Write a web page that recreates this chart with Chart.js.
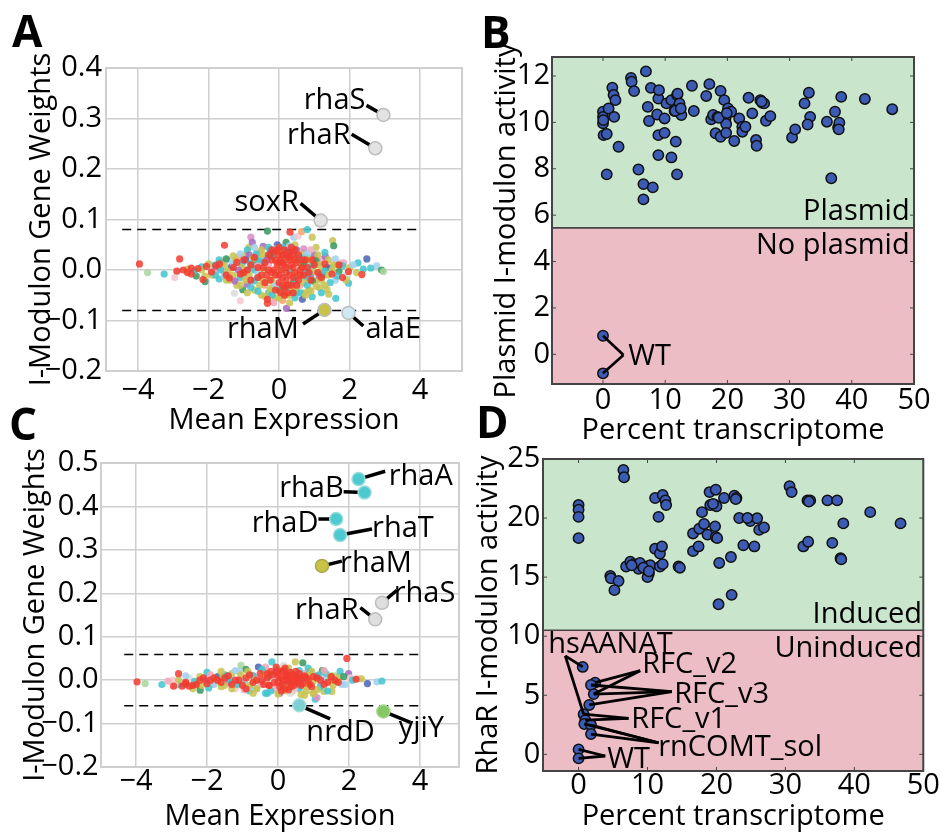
<!DOCTYPE html>
<html>
<head>
<meta charset="utf-8">
<script src="https://cdn.jsdelivr.net/npm/chart.js@4.4.1/dist/chart.umd.min.js"></script>
<style>
  html, body { margin: 0; padding: 0; background: #fff; }
  body { width: 941px; height: 834px; position: relative; overflow: hidden; }
  .panel { position: absolute; }
  .panel canvas { display: block; }
  .letter { position: absolute; font: bold 44px 'Open Sans'; line-height: 44px; color: #000; }
</style>
</head>
<body>
<div class="panel" style="left:0;top:0"><canvas id="cA" width="470" height="445"></canvas></div>
<div class="panel" style="left:470px;top:0"><canvas id="cB" width="471" height="455"></canvas></div>
<div class="panel" style="left:0;top:400px"><canvas id="cC" width="470" height="434"></canvas></div>
<div class="panel" style="left:470px;top:400px"><canvas id="cD" width="471" height="434"></canvas></div>
<div class="letter" style="left:12px;top:8px">A</div>
<div class="letter" style="left:481px;top:9px">B</div>
<div class="letter" style="left:9px;top:401px">C</div>
<div class="letter" style="left:476px;top:399px">D</div>
<script>
// ---------------- data ----------------
// gene categories -> colours (category 0 = red, drawn above the others)
const catColors = ['#f23b2f','#c8c455','#47c6cf','#a2d2ee','#f1a9b9','#3c9b62','#a86cc0',
                   '#4c69b5','#f3a86a','#a9d6a1','#f6c9d1','#dcdcdc','#d98fca'];

// Panel A: gene weights vs mean expression, spread-out genes
const geneA_x = [-3.73,-3.26,-2.96,-2.9,-2.6,-2.35,-2.1,-2.2,-1.95,-1.9,-1.75,-1.7,-1.6,-1.55,-1.45,-1.4,-1.35,-1.27,-1.1,-1.03,
  -1.2,-1.15,-1.05,-1.0,-0.95,-0.9,-0.85,-0.8,-0.76,-0.75,-0.7,-0.65,-0.6,-0.55,-0.5,-0.45,-0.42,-0.4,-0.35,-0.33,
  -0.3,-0.25,-0.2,-0.15,-0.1,-0.05,0.0,0.05,0.1,0.15,0.2,0.21,0.25,0.3,0.35,0.42,0.4,0.45,0.5,0.54,
  0.55,0.6,0.64,0.66,0.7,0.75,0.8,0.8,0.85,0.9,0.94,0.94,1.0,1.05,1.1,1.15,1.2,1.25,1.31,1.36,
  1.41,1.45,1.52,1.55,1.6,1.61,1.65,1.74,1.83,1.9,1.97,2.0,2.24,2.39,2.49,2.77,2.91,2.96,
  -0.6,-0.3,0.0,0.3,0.6,0.9,1.2,-0.9,-0.2,0.5,1.05,-0.5,0.2,0.7,-0.15,0.3,
  -3.96,-2.82,-2.9,-2.72,-2.6,-2.49,-2.49,-2.3,-2.16,-2.06,-1.92,-1.8,-1.69,-1.55,-1.5,-1.41,-1.3,-1.2,-1.1,-1.0,
  -0.9,-0.8,-0.7,-0.6,-0.5,-0.4,-0.33,-0.33,-0.3,-0.25,-0.2,-0.15,-0.1,-0.05,0.0,0.0,0.05,0.1,0.1,0.15,
  0.15,0.2,0.2,0.25,0.3,0.31,0.35,0.35,0.4,0.45,0.5,0.55,0.6,0.65,0.7,0.8,0.9,1.0,1.1,1.3,
  1.5,1.7,1.97,2.35,1.8,0.05,-0.05,0.25,0.0,0.1,-0.1,0.2,0.4,-0.2,0.3,0.45,-0.4];
const geneA_y = [-0.005,-0.008,-0.015,-0.004,0.002,-0.012,-0.023,0.006,0.01,-0.01,0.004,-0.018,0.015,-0.005,0.02,-0.02,0.006,-0.046,-0.061,-0.039,
  -0.03,0.025,0.012,-0.012,0.03,-0.028,0.045,0.065,0.055,0.008,-0.04,0.02,-0.015,0.035,-0.05,0.047,0.0,-0.03,0.025,0.077,
  -0.045,0.04,-0.02,0.03,-0.055,0.05,-0.04,0.045,-0.06,0.02,-0.035,-0.076,0.04,-0.05,0.03,0.065,-0.025,0.05,-0.045,0.067,
  0.02,-0.03,0.076,-0.058,0.035,-0.015,0.08,0.025,-0.04,0.01,0.065,-0.053,0.03,-0.02,0.015,-0.035,0.02,-0.01,0.027,-0.039,
  -0.048,0.005,0.058,0.048,-0.02,-0.056,0.01,0.014,0.014,-0.01,-0.026,0.005,0.014,0.002,0.022,0.008,0.0,-0.003,
  0.03,0.01,0.0,0.0,0.01,-0.01,0.0,0.0,-0.035,-0.01,0.045,0.015,0.055,-0.045,-0.065,-0.065,
  0.012,0.022,-0.002,0.0,-0.005,0.004,-0.008,0.003,-0.019,0.007,-0.004,0.008,0.012,0.049,-0.01,-0.016,0.005,0.015,-0.008,0.02,
  0.0,-0.02,0.025,0.005,-0.01,0.015,-0.058,-0.066,0.0,-0.02,0.02,0.035,-0.01,0.01,-0.025,0.03,0.0,0.015,-0.015,-0.035,
  0.04,0.005,-0.02,0.025,-0.01,0.075,0.01,-0.03,0.03,-0.005,0.015,-0.02,0.0,0.02,-0.01,0.005,-0.02,0.01,-0.005,0.012,
  -0.008,0.01,-0.003,-0.009,-0.015,-0.045,0.04,-0.045,0.015,0.03,0.02,-0.005,-0.015,-0.005,0.02,0.04,-0.025];
const geneA_cat = [9,2,10,11,1,5,5,2,3,1,6,2,1,4,3,1,7,11,10,5,
  1,8,2,4,1,6,1,12,6,3,1,5,2,4,1,6,1,8,3,5,
  2,7,1,2,1,7,5,3,8,1,2,6,7,1,2,3,5,1,2,10,
  1,4,8,7,1,2,2,5,1,3,1,2,6,1,2,1,4,5,6,1,
  1,2,1,5,3,2,1,10,4,11,2,1,2,2,7,3,5,9,
  1,4,1,2,1,6,1,2,1,1,1,2,5,1,4,1,
  0,0,0,0,0,0,0,0,0,0,0,0,0,0,0,0,0,0,0,0,
  0,0,0,0,0,0,0,0,0,0,0,0,0,0,0,0,0,0,0,0,
  0,0,0,0,0,0,0,0,0,0,0,0,0,0,0,0,0,0,0,0,
  0,0,0,0,0,0,0,0,0,0,0,0,0,0,0,0,0];
// Panel A: dense core of the cloud
const coreA_x = [-0.9,-0.7,-0.5,-0.3,-0.1,0.1,0.3,0.5,0.7,0.9,
  -1.3,-1.1,-0.85,-0.65,-0.45,-0.25,0.05,0.2,0.55,0.8,1.1,1.3,
  -1.7,-1.5,-1.25,-0.95,-0.75,-0.55,-0.35,0.35,0.6,0.85,1.05,1.4,1.6,
  -2.0,-1.8,-1.55,-1.3,-1.05,-0.8,-0.6,0.7,0.95,1.15,1.35,1.55,1.8,2.1,
  -2.4,-2.2,-1.85,-1.65,-1.45,-1.15,-0.95,-0.7,0.75,1.0,1.3,1.5,1.7,2.2,2.6,
  -2.1,-1.8,-1.55,-1.3,-1.1,-0.85,-0.6,0.6,0.85,1.15,1.4,1.65,1.9,
  -1.5,-1.25,-0.95,-0.7,-0.45,0.45,0.7,0.95,1.2,1.45,
  -1.1,-0.8,-0.55,-0.1,0.25,0.5,0.8,1.05,1.3,
  -0.9,-0.6,-0.25,0.1,0.4,0.6,0.9,1.2,
  -0.4,-0.2,0.0,0.2,0.45,0.75,
  -0.3,-0.15,0.0,0.05,0.15,0.25,0.3,0.4,0.5,0.55,0.6,-0.45,-0.6,-0.8,-1.0,
  0.75,0.85,0.95,1.2,-0.1,0.1,0.35,-0.2,0.2,0.45,0.0,-0.35,0.65,0.15,0.4];
const coreA_y = [0.04,0.045,0.04,0.045,0.042,0.045,0.048,0.04,0.042,0.04,
  0.028,0.032,0.03,0.032,0.03,0.028,0.035,0.032,0.03,0.032,0.03,0.035,
  0.02,0.022,0.018,0.02,0.022,0.018,0.02,0.022,0.025,0.02,0.018,0.02,0.022,
  0.012,0.01,0.008,0.012,0.005,0.012,0.008,0.012,0.008,0.01,0.005,0.01,0.008,0.01,
  -0.002,0.0,-0.003,0.0,-0.002,0.0,-0.005,0.0,-0.002,-0.003,-0.002,0.0,-0.003,-0.005,0.004,
  -0.012,-0.01,-0.012,-0.01,-0.015,-0.01,-0.008,-0.012,-0.008,-0.012,-0.01,-0.012,-0.02,
  -0.02,-0.022,-0.02,-0.022,-0.02,-0.02,-0.025,-0.022,-0.02,-0.025,
  -0.03,-0.035,-0.03,-0.03,-0.03,-0.035,-0.03,-0.032,-0.03,
  -0.045,-0.042,-0.04,-0.045,-0.04,-0.045,-0.042,-0.045,
  -0.052,-0.05,-0.055,-0.05,-0.055,-0.05,
  0.03,0.0,-0.01,0.02,0.01,-0.03,0.035,0.005,-0.03,0.03,-0.01,0.005,-0.015,0.01,-0.005,
  0.02,-0.005,0.02,-0.015,-0.04,-0.03,0.045,0.04,0.03,0.02,0.045,-0.01,0.005,-0.05,-0.045];
const coreA_cat = [2,3,1,2,3,2,3,6,12,4,
  1,3,6,2,1,5,1,2,1,3,1,2,
  2,5,1,7,1,2,6,1,2,1,5,1,3,
  1,2,1,3,1,2,4,5,2,1,7,1,2,3,
  2,1,4,2,1,6,1,2,2,1,2,1,5,1,2,
  1,2,3,1,2,1,3,1,2,6,1,2,1,
  1,6,1,2,1,2,1,5,1,2,
  1,2,1,3,1,1,2,1,1,
  1,2,1,1,1,2,1,2,
  1,2,1,1,2,1,
  0,0,0,0,0,0,0,0,0,0,0,0,0,0,0,
  0,0,0,0,0,0,0,0,0,0,0,0,0,0,0];
const labA_names = ['rhaS','rhaR','soxR','rhaM','alaE'];
const labA_x = [2.96, 2.73, 1.18, 1.29, 1.97];
const labA_y = [0.307, 0.241, 0.098, -0.079, -0.085];
const cutA = 0.08;

// Panel C: gene weights vs mean expression, spread-out genes
const geneC_x = [-3.74,-3.27,-2.96,-2.8,-2.5,-2.3,-2.19,-2.0,-1.85,-1.7,-1.6,-1.5,-1.4,-1.3,-1.2,-1.1,-1.04,-1.0,-0.9,-0.8,
  -0.7,-0.6,-0.55,-0.5,-0.4,-0.3,-0.25,-0.17,-0.1,0.0,0.05,0.16,0.2,0.3,0.4,0.49,0.5,0.6,0.65,0.7,
  0.75,0.8,0.9,0.99,1.05,1.1,1.2,1.29,1.35,1.45,1.52,1.6,1.71,1.8,1.99,2.04,2.24,2.52,2.79,2.93,
  1.1,-0.35,0.25,0.85,-0.75,0.35,-1.55,1.25,
  -3.97,-2.94,-2.8,-2.7,-2.5,-2.4,-2.2,-2.0,-1.8,-1.6,-1.4,-1.2,-1.0,-0.8,-0.6,-0.5,-0.4,-0.3,-0.2,-0.1,
  0.0,0.05,0.1,0.15,0.2,0.25,0.3,0.35,0.4,0.45,0.5,0.55,0.6,0.7,0.8,0.9,1.0,1.2,1.4,1.6,
  1.94,2.2,-0.05,0.2,-2.6,-0.9,0.1,0.3,0.65,-0.25];
const geneC_y = [-0.008,-0.01,0.0,-0.01,0.005,-0.012,-0.023,0.005,-0.01,0.008,-0.015,0.012,-0.005,0.015,-0.02,0.02,0.034,-0.01,0.025,-0.025,
  0.01,-0.02,0.03,-0.005,0.02,-0.03,0.01,0.042,-0.02,0.025,-0.03,0.034,-0.01,0.02,-0.025,0.042,0.01,-0.02,-0.033,0.04,
  0.015,-0.015,0.02,-0.031,-0.044,0.01,-0.01,-0.026,0.015,0.0,-0.026,0.01,0.007,-0.01,0.015,0.005,0.003,-0.008,-0.004,-0.002,
  -0.04,0.03,-0.025,0.028,-0.015,0.0,0.01,0.022,
  -0.004,-0.014,0.015,-0.014,-0.014,-0.012,0.0,-0.008,0.005,-0.005,0.01,0.0,-0.012,0.012,0.0,0.015,-0.01,0.005,0.02,-0.005,
  0.01,-0.015,0.02,0.0,-0.02,0.012,-0.005,0.018,0.0,-0.012,0.008,-0.005,0.015,-0.008,0.005,-0.01,0.008,0.0,-0.005,0.0,
  0.05,0.002,0.03,0.028,-0.008,-0.02,-0.025,0.01,0.005,-0.012];
const geneC_cat = [9,2,10,2,11,1,5,3,4,7,1,2,6,1,10,3,9,1,5,2,
  12,1,7,3,1,2,5,2,4,1,6,11,2,3,1,1,7,2,1,5,
  4,1,2,1,2,6,3,1,2,1,1,9,1,3,6,10,4,7,3,2,
  12,4,1,2,3,8,1,5,
  0,0,0,0,0,0,0,0,0,0,0,0,0,0,0,0,0,0,0,0,
  0,0,0,0,0,0,0,0,0,0,0,0,0,0,0,0,0,0,0,0,
  0,0,0,0,0,0,0,0,0,0];
// Panel C: dense core of the cloud
const coreC_x = [-2.0,-1.6,-1.2,-0.85,-0.45,-0.05,0.3,0.6,0.95,1.3,1.75,
  -2.6,-2.2,-1.9,-1.45,-1.05,-0.7,-0.35,0.45,0.85,1.15,1.5,1.85,
  -3.1,-2.8,-2.35,-2.05,-1.75,-1.35,-0.95,-0.65,0.65,1.0,1.3,1.65,2.1,2.35,
  -2.9,-2.6,-2.15,-1.8,-1.5,-1.15,-0.8,-0.45,0.3,0.55,0.85,1.2,1.55,1.9,
  -2.4,-1.95,-1.3,-0.95,-0.6,-0.2,0.15,0.45,0.8,1.1,1.4,
  -0.7,-0.35,0.0,0.35,0.75,1.0,
  -2.6,-2.3,-1.9,-1.5,-1.1,-0.7,-0.45,-0.25,-0.15,0.0,0.08,0.12,0.22,0.28,0.38,0.42,0.48,0.58,
  0.65,0.75,0.85,0.95,1.1,1.3,1.5,1.7,-0.05,0.3,0.5,0.15,-0.3,-0.9,-1.3,-1.7,-2.1];
const coreC_y = [0.018,0.02,0.022,0.02,0.025,0.02,0.028,0.022,0.02,0.022,0.02,
  0.01,0.008,0.012,0.01,0.012,0.01,0.012,0.012,0.01,0.012,0.01,0.008,
  -0.002,0.0,-0.003,0.0,-0.002,0.0,-0.002,0.0,0.0,-0.002,0.0,-0.003,0.0,0.003,
  -0.012,-0.01,-0.012,-0.01,-0.012,-0.01,-0.012,-0.01,-0.012,-0.01,-0.012,-0.015,-0.012,-0.01,
  -0.02,-0.018,-0.02,-0.022,-0.02,-0.025,-0.02,-0.022,-0.025,-0.022,-0.025,
  -0.03,-0.03,-0.032,-0.03,-0.035,-0.03,
  -0.005,-0.01,0.0,0.005,0.0,-0.005,0.0,-0.012,0.012,-0.005,0.005,-0.01,0.01,0.0,-0.015,0.012,-0.002,0.005,
  -0.012,0.01,0.0,-0.015,0.005,-0.01,0.008,-0.005,0.018,-0.022,0.02,0.022,0.015,0.005,-0.01,0.0,0.005];
const coreC_cat = [2,1,3,1,2,6,1,2,1,4,2,
  3,1,4,2,1,2,1,3,1,2,1,5,
  4,1,2,6,1,2,3,1,2,1,3,1,2,1,
  10,2,1,3,1,2,1,4,1,2,1,2,1,3,
  1,2,1,4,1,2,1,10,1,1,2,
  1,2,1,11,1,1,
  0,0,0,0,0,0,0,0,0,0,0,0,0,0,0,0,0,0,
  0,0,0,0,0,0,0,0,0,0,0,0,0,0,0,0,0];
const labC_names = ['rhaA','rhaB','rhaD','rhaT','rhaM','rhaS','rhaR','nrdD','yjiY'];
const labC_x = [2.27, 2.44, 1.64, 1.75, 1.24, 2.93, 2.74, 0.6, 2.97];
const labC_y = [0.463, 0.432, 0.371, 0.334, 0.263, 0.178, 0.14, -0.058, -0.072];
const cutC = 0.059;

// Panel B: plasmid module activity vs percent transcriptome
const pctB = [0,0,0,0.1,0.6,0.6,0.9,1.5,1.7,2.0,1.8,2.5,4.5,4.6,5.0,5.7,6.5,6.5,6.9,7.2,
  7.4,7.7,8.0,8.7,8.9,8.9,8.9,9.0,9.9,9.9,10.2,11.0,11.0,11.5,11.7,11.9,12.1,12.3,12.6,11.9,
  14.3,14.6,16.6,17.1,17.4,17.7,18.1,18.4,18.9,18.9,19.5,19.7,19.8,19.8,20.1,20.6,21.1,21.9,22.4,22.4,
  22.9,23.4,24.0,24.6,24.7,25.3,25.6,25.9,26.2,26.9,30.4,30.9,32.4,33.1,33.3,32.9,36.0,36.7,37.3,37.8,
  38.0,38.3,42.1,46.5,12.0,11.6,12.5,0.05,18.6,19.9,25.5,37.9];
const actB = [10.46,10.24,9.96,9.45,9.5,7.76,10.6,11.5,11.18,10.96,10.24,8.95,11.92,11.75,11.35,7.97,7.34,6.68,12.2,10.67,
  10.06,11.49,7.2,10.34,11.03,9.45,8.59,11.39,10.17,9.55,10.82,10.96,8.49,10.49,9.17,11.18,10.67,10.82,10.32,7.76,
  11.58,10.49,11.14,11.65,10.13,10.32,9.53,10.24,11.36,9.38,10.96,10.17,9.93,9.55,10.6,10.46,9.2,10.17,9.81,9.6,
  9.81,11.06,10.39,9.24,8.99,10.96,10.85,10.82,10.07,10.27,9.35,9.7,10.82,11.28,10.24,9.91,10.03,7.59,10.46,9.78,
  9.99,11.1,11.01,10.57,11.24,10.5,10.6,10.1,10.2,10.4,10.9,9.7];
const pctB_wt = [0, 0];
const actB_wt = [0.8, -0.82];
const splitB = 5.45;

// Panel D: RhaR module activity vs percent transcriptome
const pctD = [0,0,0,0,6.5,6.6,4.6,4.7,5.8,5.2,6.9,7.5,8.0,8.7,8.9,9.9,10.2,10.0,10.4,11.1,
  11.6,12.2,12.6,12.7,11.1,11.8,12.1,11.8,12.2,14.5,14.7,16.6,16.6,17.4,17.5,17.9,18.2,18.7,19.1,19.0,
  19.9,19.8,19.8,19.9,20.1,20.4,20.3,21.1,22.1,22.2,22.6,22.9,23.3,23.9,24.6,24.9,25.5,25.9,26.2,26.9,
  30.6,30.9,32.6,33.3,33.2,33.6,36.1,36.8,37.5,38.0,38.4,42.3,46.7,
  9.4,10.2,7.7,20.0,19.5,22.8,38.1,33.4,24.5];
const actD = [21.1,20.7,20.1,18.3,24.07,23.45,15.1,14.9,14.67,13.9,15.9,16.3,16.1,15.7,16.2,15.9,15.3,15.0,16.0,21.7,
  20.1,21.95,21.5,21.1,17.4,17.0,17.6,15.9,16.1,15.9,15.8,18.7,17.2,17.6,19.1,20.5,19.5,18.6,21.1,22.2,
  22.4,21.1,19.3,18.4,18.3,16.2,12.7,21.7,16.7,13.5,21.9,21.7,20.0,17.7,19.95,19.75,17.6,19.98,19.0,19.2,
  22.7,22.2,17.6,18.0,21.5,21.5,21.5,17.9,21.5,16.6,19.55,20.5,19.55,
  15.8,15.5,16.0,21.0,21.2,21.6,16.5,21.4,20.0];
const pctD_un = [0.6, 2.4, 1.8, 2.2, 1.55, 0.73, 0.97, 0.83, 1.8, 1.8, 0, 0];
const actD_un = [7.4, 6.07, 5.87, 5.1, 4.18, 3.4, 2.9, 2.57, 2.48, 1.72, 0.42, -0.34];
const splitD = 10.5;

// axis ticks
const ticksGeneX = [-4, -2, 0, 2, 4];
const ticksA_y = [-0.2, -0.1, 0.0, 0.1, 0.2, 0.3, 0.4];
const ticksC_y = [-0.2, -0.1, 0.0, 0.1, 0.2, 0.3, 0.4, 0.5];
const ticksPct = [0, 10, 20, 30, 40, 50];
const ticksB_y = [0, 2, 4, 6, 8, 10, 12];
const ticksD_y = [0, 5, 10, 15, 20, 25];

// ---------------- drawing helpers ----------------
const FAMILY = 'Open Sans';
const FS = 29;
const fnt = (s) => ({ family: FAMILY, size: s, lineHeight: 1 });
const minus = (s) => s.replace('-', '\u2212');
const fmt1 = (v) => minus(Number(v).toFixed(1));
const fmt0 = (v) => minus(Number(v).toFixed(0));
const pts = (xs, ys) => xs.map((x, i) => ({ x, y: ys[i] }));

function axis(o) {
  return {
    type: 'linear', min: o.min, max: o.max, bounds: 'data',
    afterBuildTicks: (s) => { s.ticks = o.ticks.map(v => ({ value: v })); },
    afterFit: (s) => { if (o.w !== undefined) s.width = o.w; if (o.h !== undefined) s.height = o.h; },
    ticks: { font: fnt(FS), color: '#000', padding: o.pad, callback: o.fmt, autoSkip: false, maxRotation: 0 },
    grid: o.grid ? { color: '#cfcfcf', lineWidth: 1.5, drawTicks: false } : { display: false, drawTicks: false },
    border: { display: false },
    title: { display: true, text: o.title, font: fnt(FS), color: '#000', padding: o.titlePad }
  };
}

function segment(a, b, width, order) {
  return { data: [{ x: a[0], y: a[1] }, { x: b[0], y: b[1] }], showLine: true, borderColor: '#000',
           borderWidth: width, pointRadius: 0, order: order, clip: false };
}

function cloudSets(xs, ys, cats) {
  const other = [], otherC = [], red = [];
  xs.forEach((x, i) => {
    if (cats[i] === 0) red.push({ x, y: ys[i] });
    else { other.push({ x, y: ys[i] }); otherC.push(catColors[cats[i]] + 'e0'); }
  });
  return [
    { data: red, pointRadius: 3.6, pointBorderWidth: 0, pointBackgroundColor: '#f23b2fd8', order: 3 },
    { data: other, pointRadius: 3.6, pointBorderWidth: 0, pointBackgroundColor: otherC, order: 4 }
  ];
}

// text labels, frames, shaded zones, inward ticks
function decorPlugin(cfg) {
  return {
    id: 'decor',
    beforeDatasetsDraw(chart) {
      const { ctx, chartArea: a, scales: { y } } = chart;
      if (cfg.split !== undefined) {
        const ys = y.getPixelForValue(cfg.split);
        ctx.save();
        ctx.fillStyle = '#c9e6cd';
        ctx.fillRect(a.left, a.top, a.right - a.left, ys - a.top);
        ctx.fillStyle = '#ecbdc5';
        ctx.fillRect(a.left, ys, a.right - a.left, a.bottom - ys);
        ctx.strokeStyle = '#444'; ctx.lineWidth = 1.6;
        ctx.beginPath(); ctx.moveTo(a.left, ys); ctx.lineTo(a.right, ys); ctx.stroke();
        ctx.restore();
      }
    },
    afterDatasetsDraw(chart) {
      const { ctx, chartArea: a, scales: { x, y } } = chart;
      ctx.save();
      if (cfg.split !== undefined) {
        ctx.strokeStyle = '#444'; ctx.lineWidth = 1;
        ctx.beginPath();
        cfg.xt.forEach(v => { const p = x.getPixelForValue(v);
          ctx.moveTo(p, a.top); ctx.lineTo(p, a.top + 4); ctx.moveTo(p, a.bottom); ctx.lineTo(p, a.bottom - 4); });
        cfg.yt.forEach(v => { const p = y.getPixelForValue(v);
          ctx.moveTo(a.left, p); ctx.lineTo(a.left + 4, p); ctx.moveTo(a.right, p); ctx.lineTo(a.right - 4, p); });
        ctx.stroke();
        ctx.strokeStyle = '#444'; ctx.lineWidth = 2;
      } else {
        ctx.strokeStyle = '#cfcfcf'; ctx.lineWidth = 2;
      }
      ctx.strokeRect(a.left, a.top, a.right - a.left, a.bottom - a.top);
      ctx.fillStyle = '#000';
      ctx.font = FS + 'px "' + FAMILY + '"';
      ctx.textBaseline = 'alphabetic';
      cfg.texts.forEach(t => {
        ctx.textAlign = t.align;
        ctx.fillText(t.text, x.getPixelForValue(t.x), y.getPixelForValue(t.y));
      });
      ctx.restore();
    }
  };
}

function baseOptions(padding, scales) {
  return {
    responsive: false, animation: false, events: [],
    layout: { padding },
    plugins: { legend: { display: false }, tooltip: { enabled: false } },
    scales
  };
}

Chart.defaults.font.family = FAMILY;

// ---------------- panel A ----------------
(function () {
  const labFill = ['#e3e3e3', '#e3e3e3', '#e3e3e3', '#c8c246', '#cfe9f3'];
  const callouts = [
    { g: 0, text: 'rhaS', x: 2.45, y: 0.318, align: 'right', from: [2.48, 0.326] },
    { g: 1, text: 'rhaR', x: 2.03, y: 0.249, align: 'right', from: [2.06, 0.269] },
    { g: 2, text: 'soxR', x: 0.56, y: 0.116, align: 'right', from: [0.61, 0.132] },
    { g: 3, text: 'rhaM', x: 0.56, y: -0.135, align: 'right', from: [0.68, -0.107] },
    { g: 4, text: 'alaE', x: 2.45, y: -0.135, align: 'left', from: [2.39, -0.111] }
  ];
  const sets = [
    { data: pts(labA_x, labA_y), pointRadius: 6.5, pointBorderWidth: 1.5, pointBackgroundColor: labFill,
      pointBorderColor: '#bdbdbd', order: 0 },
    ...callouts.map(c => segment(c.from, [labA_x[c.g], labA_y[c.g]], 3.5, 1)),
    ...cloudSets(geneA_x.concat(coreA_x), geneA_y.concat(coreA_y), geneA_cat.concat(coreA_cat)),
    Object.assign(segment([-4.45, cutA], [4.0, cutA], 1.5, 5), { borderDash: [9, 6] }),
    Object.assign(segment([-4.45, -cutA], [4.0, -cutA], 1.5, 5), { borderDash: [9, 6] })
  ];
  new Chart(document.getElementById('cA'), {
    type: 'scatter',
    data: { datasets: sets },
    options: baseOptions({ left: 0, top: 68, right: 6, bottom: 0 }, {
      x: axis({ min: -4.91, max: 5.19, ticks: ticksGeneX, fmt: fmt0, h: 74, pad: 5.5, grid: true,
                title: 'Mean Expression', titlePad: { top: 0, bottom: 10 } }),
      y: axis({ min: -0.2, max: 0.4, ticks: ticksA_y, fmt: fmt1, w: 106, pad: 4, grid: true,
                title: 'I-Modulon Gene Weights', titlePad: { top: 27, bottom: 0 } })
    }),
    plugins: [decorPlugin({ texts: callouts })]
  });
})();

// ---------------- panel C ----------------
(function () {
  const labFill = ['#4ccacf', '#4ccacf', '#4ccacf', '#4ccacf', '#c8c246', '#dedede', '#dedede', '#7fd0d0', '#86c765'];
  const labEdge = ['#9adcdc', '#9adcdc', '#9adcdc', '#9adcdc', '#a9a84a', '#bdbdbd', '#bdbdbd', '#a8dede', '#a5d58c'];
  const callouts = [
    { g: 0, text: 'rhaA', x: 3.12, y: 0.45, align: 'left', from: [3.02, 0.481] },
    { g: 1, text: 'rhaB', x: 1.85, y: 0.421, align: 'right', from: [1.85, 0.434] },
    { g: 2, text: 'rhaD', x: 1.14, y: 0.342, align: 'right', from: [1.14, 0.371] },
    { g: 3, text: 'rhaT', x: 2.65, y: 0.330, align: 'left', from: [2.65, 0.348] },
    { g: 4, text: 'rhaM', x: 1.75, y: 0.25, align: 'left', from: [1.8, 0.274] },
    { g: 5, text: 'rhaS', x: 3.26, y: 0.18, align: 'left', from: [3.35, 0.207] },
    { g: 6, text: 'rhaR', x: 2.27, y: 0.14, align: 'right', from: [2.32, 0.167] },
    { g: 7, text: 'nrdD', x: 0.8, y: -0.139, align: 'left', from: [1.47, -0.089] },
    { g: 8, text: 'yjiY', x: 3.4, y: -0.131, align: 'left', from: [3.73, -0.097] }
  ];
  const sets = [
    { data: pts(labC_x, labC_y), pointRadius: 6.5, pointBorderWidth: 1.5, pointBackgroundColor: labFill,
      pointBorderColor: labEdge, order: 0 },
    ...callouts.map(c => segment(c.from, [labC_x[c.g], labC_y[c.g]], 3.5, 1)),
    ...cloudSets(geneC_x.concat(coreC_x), geneC_y.concat(coreC_y), geneC_cat.concat(coreC_cat)),
    Object.assign(segment([-4.33, cutC], [4.0, cutC], 1.5, 5), { borderDash: [9, 6] }),
    Object.assign(segment([-4.33, -cutC], [4.0, -cutC], 1.5, 5), { borderDash: [9, 6] })
  ];
  new Chart(document.getElementById('cC'), {
    type: 'scatter',
    data: { datasets: sets },
    options: baseOptions({ left: 0, top: 63, right: 11, bottom: 0 }, {
      x: axis({ min: -4.985, max: 5.1, ticks: ticksGeneX, fmt: fmt0, h: 67, pad: 0, grid: true,
                title: 'Mean Expression', titlePad: { top: 0, bottom: 3 } }),
      y: axis({ min: -0.2, max: 0.5, ticks: ticksC_y, fmt: fmt1, w: 101, pad: 2.4, grid: true,
                title: 'I-Modulon Gene Weights', titlePad: { top: 21, bottom: 0 } })
    }),
    plugins: [decorPlugin({ texts: callouts })]
  });
})();

// ---------------- panel B ----------------
(function () {
  const vertex = [3.29, -0.03];
  const texts = [
    { text: 'Plasmid', x: 49.3, y: 5.78, align: 'right' },
    { text: 'No plasmid', x: 49.3, y: 4.32, align: 'right' },
    { text: 'WT', x: 4.04, y: -0.46, align: 'left' }
  ];
  const dot = { pointRadius: 5.2, pointBorderWidth: 1.5, pointBackgroundColor: '#3b5bb4', pointBorderColor: '#111' };
  const sets = [
    Object.assign({ data: pts(pctB, actB), order: 2 }, dot),
    Object.assign({ data: pts(pctB_wt, actB_wt), order: 2 }, dot),
    segment([pctB_wt[0], actB_wt[0]], vertex, 2.6, 1),
    segment([pctB_wt[1], actB_wt[1]], vertex, 2.6, 1)
  ];
  new Chart(document.getElementById('cB'), {
    type: 'scatter',
    data: { datasets: sets },
    options: baseOptions({ left: 0, top: 57, right: 27, bottom: 0 }, {
      x: axis({ min: -8.2, max: 50, ticks: ticksPct, fmt: fmt0, h: 71, pad: 2.2, grid: false,
                title: 'Percent transcriptome', titlePad: { top: 0, bottom: 10 } }),
      y: axis({ min: -1.28, max: 12.82, ticks: ticksB_y, fmt: fmt0, w: 82, pad: 2, grid: false,
                title: 'Plasmid I-modulon activity', titlePad: { top: 22, bottom: 0 } })
    }),
    plugins: [decorPlugin({ texts, split: splitB, xt: ticksPct, yt: ticksB_y })]
  });
})();

// ---------------- panel D ----------------
(function () {
  const callouts = [
    { text: 'hsAANAT', x: -4.39, y: 8.56, vertex: [-1.93, 8.33], to: [0, 5] },
    { text: 'RFC_v2', x: 9.23, y: 6.86, vertex: [8.94, 7.08], to: [1, 3] },
    { text: 'RFC_v3', x: 13.87, y: 4.32, vertex: [13.53, 5.31], to: [2, 3, 4] },
    { text: 'RFC_v1', x: 7.64, y: 2.2, vertex: [7.25, 3.05], to: [5, 6] },
    { text: 'rnCOMT_sol', x: 11.55, y: -0.14, vertex: [11.6, 0.98], to: [7, 8, 9] },
    { text: 'WT', x: 4.16, y: -1.19, vertex: [3.87, -0.14], to: [10, 11] }
  ];
  const texts = [
    { text: 'Induced', x: 49.8, y: 11.1, align: 'right' },
    { text: 'Uninduced', x: 49.8, y: 8.27, align: 'right' },
    ...callouts.map(c => ({ text: c.text, x: c.x, y: c.y, align: 'left' }))
  ];
  const dot = { pointRadius: 5.2, pointBorderWidth: 1.5, pointBackgroundColor: '#3b5bb4', pointBorderColor: '#111' };
  const branches = [];
  callouts.forEach(c => c.to.forEach(i => branches.push(segment([pctD_un[i], actD_un[i]], c.vertex, 2.8, 1))));
  const sets = [
    ...branches,
    Object.assign({ data: pts(pctD, actD), order: 2 }, dot),
    Object.assign({ data: pts(pctD_un, actD_un), order: 2 }, dot)
  ];
  new Chart(document.getElementById('cD'), {
    type: 'scatter',
    data: { datasets: sets },
    options: baseOptions({ left: 0, top: 59, right: 17.7, bottom: 0 }, {
      x: axis({ min: -5.16, max: 50, ticks: ticksPct, fmt: fmt0, h: 63, pad: 0.3, grid: false,
                title: 'Percent transcriptome', titlePad: { top: 0, bottom: 3 } }),
      y: axis({ min: -1.41, max: 25, ticks: ticksD_y, fmt: fmt0, w: 73, pad: 2.7, grid: false,
                title: 'RhaR I-modulon activity', titlePad: { top: 4, bottom: 0 } })
    }),
    plugins: [decorPlugin({ texts, split: splitD, xt: ticksPct, yt: ticksD_y })]
  });
})();
</script>
</body>
</html>
